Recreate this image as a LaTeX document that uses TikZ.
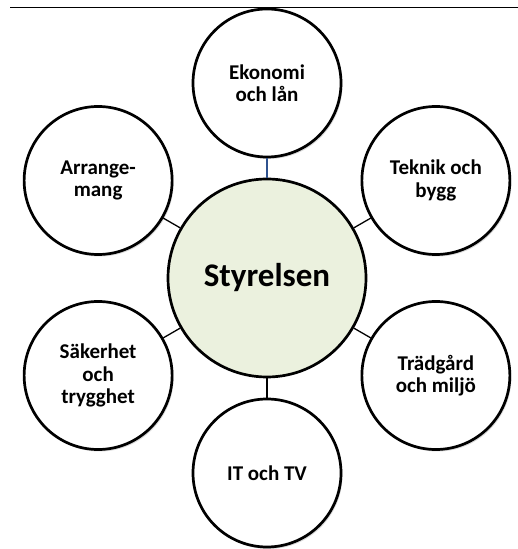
\documentclass[tikz,border=0pt]{standalone}
\usepackage{fontspec}
\setmainfont{Carlito}
\usepackage{xcolor}
\usetikzlibrary{positioning,shadows,calc}
\definecolor{boardfill}{RGB}{235,241,222}
\definecolor{linkblue}{RGB}{47,82,143}

\begin{document}
\begin{tikzpicture}[every node/.style={align=center, font=\bfseries}]
\tikzset{
  board/.style={circle, draw=black, line width=2.7pt, fill=boardfill, minimum size=198pt, inner sep=0pt, font=\fontsize{33}{36}\selectfont\bfseries},
  group/.style={circle, draw=black, line width=2.7pt, fill=white, minimum size=148pt, inner sep=0pt, font=\fontsize{21}{22.5}\selectfont\bfseries, drop shadow={shadow xshift=1.5pt, shadow yshift=-2pt, opacity=0.3}},
  link/.style={draw=black, line width=1.3pt}
}
\useasboundingbox (0,0) rectangle (518pt,549pt);
% top rule
\coordinate (rulestart) at (10pt,541pt);
\coordinate (ruleend) at (518pt,541pt);
\draw[line width=1pt] (rulestart) -- (ruleend);
% centre and the six groups round it
\node[board] (styrelsen) at (267pt,271pt) {Styrelsen};
\node[group] (ekonomi) at ($(styrelsen)+(90:195pt)$) {Ekonomi\\och lån};
\node[group] (teknik) at ($(styrelsen)+(30:195pt)$) {Teknik och\\bygg};
\node[group] (tradgard) at ($(styrelsen)+(-30:195pt)$) {Trädgård\\och miljö};
\node[group] (ittv) at ($(styrelsen)+(-90:195pt)$) {IT och TV};
\node[group] (sakerhet) at ($(styrelsen)+(210:195pt)$) {Säkerhet\\och\\trygghet};
\node[group] (arrangemang) at ($(styrelsen)+(150:195pt)$) {Arrange-\\mang};
\draw[link, draw=linkblue] (styrelsen) -- (ekonomi);
\draw[link] (styrelsen) -- (teknik);
\draw[link] (styrelsen) -- (tradgard);
\draw[link] (styrelsen) -- (ittv);
\draw[link] (styrelsen) -- (sakerhet);
\draw[link] (styrelsen) -- (arrangemang);
\end{tikzpicture}
\end{document}
